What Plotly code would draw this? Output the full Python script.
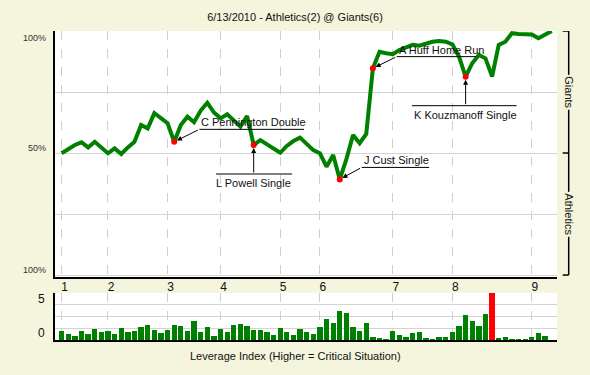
import numpy as np
import plotly.graph_objects as go

title_text = "6/13/2010 - Athletics(2) @ Giants(6)"

# Giants win probability (%) after each plate appearance (index 0 = game start)
wp_giants = [49.9, 51.5, 53.3, 54.4, 52.3, 54.6, 52.3, 49.9, 51.9, 49.6,
             52.3, 54.6, 61.5, 60.1, 66.3, 64.2, 62.2, 54.6, 61.5, 64.9,
             62.6, 67.4, 70.6, 66.6, 64.2, 65.9, 63.1, 60.8, 65.2, 53.3,
             55.3, 53.7, 51.9, 50.1, 52.9, 54.9, 56.3, 53.8, 51.2, 49.9,
             44.4, 49.2, 39.2, 47.5, 57.4, 54.0, 57.8, 84.7, 91.5, 90.9,
             90.5, 92.2, 93.2, 94.3, 94.0, 95.0, 95.6, 95.9, 95.6, 94.5,
             89.5, 81.3, 86.8, 90.2, 88.8, 81.3, 94.3, 95.6, 99.1, 98.8,
             98.8, 98.6, 97.0, 98.4, 100.0]

# Leverage index per plate appearance
leverage = [1.14, 0.76, 0.51, 1.14, 0.76, 1.39, 1.01, 1.14, 0.76, 1.52,
            1.01, 1.14, 1.65, 1.90, 1.27, 0.89, 1.27, 1.90, 1.77, 1.14,
            2.40, 1.01, 1.65, 0.51, 1.39, 1.01, 1.90, 2.03, 1.77, 1.27,
            1.27, 1.01, 0.63, 1.52, 1.01, 0.63, 1.39, 1.00, 0.76, 1.64,
            2.65, 2.14, 3.66, 3.41, 1.64, 1.13, 2.14, 0.38, 0.25, 0.13,
            1.14, 0.63, 0.38, 0.89, 1.00, 0.25, 0.13, 0.38, 0.38, 1.00,
            1.77, 3.16, 2.40, 1.77, 3.29, 6.00, 0.25, 0.38, 0.13, 0.13,
            0.13, 0.38, 0.89, 0.51]

inning_start = [0, 7, 16, 24, 33, 39, 50, 59, 71]
inning_labels = ["1", "2", "3", "4", "5", "6", "7", "8", "9"]

key_idx = [17, 29, 42, 47, 61]
key_text = ["C Pennington Double", "L Powell Single", "J Cust Single",
            "A Huff Home Run", "K Kouzmanoff Single"]
# label placement: (style, underline start, underline end, underline level)
key_place = [("diag", 20.8, 36.6, 59.7),
             ("below", 23.3, 34.8, 41.4),
             ("diag", 45.3, 55.5, 44.1),
             ("diag", 50.6, 62.6, 89.5),
             ("below", 52.9, 68.7, 69.4)]

W, H = 590, 375
BG = "#F5F4DC"
FONT = "Liberation Sans, Arial, sans-serif"
GREEN = "#008000"

def px_x(p):
    return p / W

def px_y(p):
    return 1 - p / H

xdom = [px_x(55), px_x(557)]
xr = [-1.0, 74.8]

fig = go.Figure()

x_pa = np.arange(len(wp_giants))
fig.add_trace(go.Scatter(x=x_pa, y=wp_giants, mode="lines",
                         line=dict(color=GREEN, width=4),
                         hoverinfo="skip", xaxis="x", yaxis="y"))
fig.add_trace(go.Scatter(x=[x_pa[i] for i in key_idx],
                         y=[wp_giants[i] for i in key_idx],
                         mode="markers", marker=dict(color="#FF0000", size=6),
                         hoverinfo="skip", xaxis="x", yaxis="y"))

lmax = max(leverage)
bar_colors = ["#FF0000" if v == lmax else GREEN for v in leverage]
fig.add_trace(go.Bar(x=np.arange(len(leverage)), y=leverage, width=0.8,
                     marker=dict(color=bar_colors, line=dict(width=0)),
                     hoverinfo="skip", xaxis="x2", yaxis="y2"))

annotations = []
shapes = []

for idx, txt, (style, x0, x1, yu) in zip(key_idx, key_text, key_place):
    shapes.append(dict(type="line", xref="x", yref="y", x0=x0, x1=x1,
                       y0=yu, y1=yu, line=dict(color="black", width=1)))
    if style == "diag":
        tail_x = x0
        annotations.append(dict(x=x0, y=yu, xref="x", yref="y", text=txt,
                                showarrow=False, xanchor="left",
                                yanchor="bottom", yshift=-1,
                                font=dict(size=11, color="#111111", family=FONT)))
    else:
        tail_x = idx
        annotations.append(dict(x=idx, y=yu, xref="x", yref="y", text=txt,
                                showarrow=False, xanchor="center",
                                yanchor="top", yshift=-1,
                                font=dict(size=11, color="#111111", family=FONT)))
    annotations.append(dict(x=idx, y=wp_giants[idx], xref="x", yref="y",
                            ax=tail_x, ay=yu, axref="x", ayref="y", text="",
                            showarrow=True, arrowhead=2, arrowsize=1,
                            arrowwidth=1, arrowcolor="black", standoff=3))

# left percent labels
for val, lab, ys in [(100, "100%", -7), (50, "50%", 5), (0, "100%", 5)]:
    annotations.append(dict(x=xdom[0], y=val, xref="paper", yref="y", text=lab,
                            showarrow=False, xanchor="right", yanchor="middle",
                            xshift=-7, yshift=ys,
                            font=dict(size=9, color="#333333", family=FONT)))

# right bracket
bx = 1 + 11.7 / 502
tx = 1 + 5.7 / 502
shapes.append(dict(type="line", xref="x domain", yref="y", x0=bx, x1=bx,
                   y0=0, y1=100, line=dict(color="black", width=1.5)))
for val in [0, 50, 100]:
    shapes.append(dict(type="line", xref="x domain", yref="y", x0=tx, x1=bx,
                       y0=val, y1=val, line=dict(color="black", width=1.5)))
for val, lab in [(75, "Giants"), (25, "Athletics")]:
    annotations.append(dict(x=bx, y=val, xref="x domain", yref="y", text=lab,
                            showarrow=False, textangle=90, bgcolor=BG,
                            xanchor="center", yanchor="middle",
                            font=dict(size=11, color="#111111", family=FONT)))

# leverage axis labels
for val, lab, ys in [(5, "5", 2), (0, "0", 7)]:
    annotations.append(dict(x=xdom[0], y=val, xref="paper", yref="y2", text=lab,
                            showarrow=False, xanchor="right", yanchor="middle",
                            xshift=-8, yshift=ys,
                            font=dict(size=12, color="#111111", family=FONT)))

annotations.append(dict(x=0.5, y=px_y(355.7), xref="paper", yref="paper",
                        text="Leverage Index (Higher = Critical Situation)",
                        showarrow=False, xanchor="center", yanchor="middle",
                        font=dict(size=11, color="#111111", family=FONT)))

grid_common = dict(showgrid=True, gridcolor="#CFCFCF", gridwidth=1,
                   griddash="dash", zeroline=False)

fig.update_layout(
    width=W, height=H,
    margin=dict(l=0, r=0, t=0, b=0),
    paper_bgcolor=BG, plot_bgcolor="white",
    showlegend=False,
    title=dict(text=title_text, x=0.5, xanchor="center",
               y=px_y(17), yanchor="middle", yref="container",
               font=dict(size=11, color="#111111", family=FONT)),
    xaxis=dict(domain=xdom, range=xr, tickmode="array",
               tickvals=inning_start, ticktext=inning_labels,
               ticks="", ticklabelshift=3, ticklabelstandoff=-2,
               tickfont=dict(size=12, color="#111111", family=FONT),
               showline=True, linecolor="black", linewidth=2,
               anchor="y", **grid_common),
    yaxis=dict(domain=[px_y(277), px_y(31)], range=[-0.8, 100],
               tickmode="array", tickvals=[0, 25, 50, 75, 100],
               showticklabels=False, ticks="", showgrid=True,
               gridcolor="#D3D3D3", gridwidth=1, zeroline=False,
               showline=True, linecolor="black", linewidth=2, anchor="x"),
    xaxis2=dict(domain=xdom, range=xr, tickmode="array",
                tickvals=inning_start, showticklabels=False, ticks="",
                showline=True, linecolor="black", linewidth=2,
                anchor="y2", **grid_common),
    yaxis2=dict(domain=[px_y(340), px_y(292.7)], range=[0, 6],
                tickmode="array", tickvals=[0, 1.5, 3, 4.5, 6],
                showticklabels=False, ticks="", showgrid=True,
                gridcolor="#D3D3D3", gridwidth=1, zeroline=False,
                showline=True, linecolor="black", linewidth=2, anchor="x2"),
    annotations=annotations,
    shapes=shapes,
    bargap=0,
)

fig.write_html("out.html")
